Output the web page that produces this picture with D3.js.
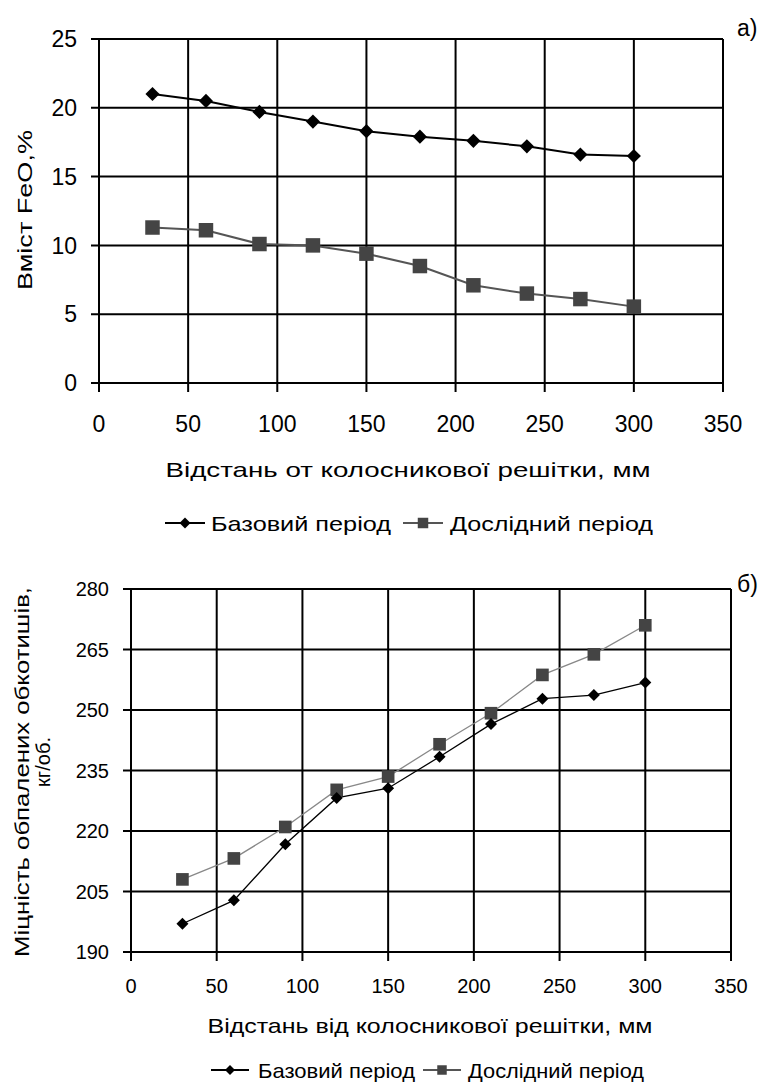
<!DOCTYPE html>
<html>
<head>
<meta charset="utf-8">
<script src="https://cdn.jsdelivr.net/npm/d3@7"></script>
<style>
  body { margin: 0; background: #fff; }
  svg text { font-family: "Liberation Sans", Arial, sans-serif; fill: #000; }
</style>
</head>
<body>
<svg id="chart" width="764" height="1088"></svg>
<script>
// distance from grate, mm
const distances = [30, 60, 90, 120, 150, 180, 210, 240, 270, 300];
const xTicks = [0, 50, 100, 150, 200, 250, 300, 350];

// a) FeO content, %
const feoBase = [21.0, 20.5, 19.7, 19.0, 18.3, 17.9, 17.6, 17.2, 16.6, 16.5];
const feoTest = [11.3, 11.1, 10.1, 10.0, 9.4, 8.5, 7.1, 6.5, 6.1, 5.55];
const feoTicks = [0, 5, 10, 15, 20, 25];

// б) strength of fired pellets, kg/pellet
const strBase = [197, 202.8, 216.7, 228.2, 230.6, 238.4, 246.5, 252.8, 253.7, 256.8];
const strTest = [208, 213.2, 221, 230.2, 233.5, 241.5, 249.2, 258.7, 263.8, 271];
const strTicks = [190, 205, 220, 235, 250, 265, 280];

const seriesNames = ["Базовий період", "Дослідний період"];

const svg = d3.select("#chart");

function drawPanel(cfg) {
  const x = d3.scaleLinear().domain([0, 350]).range([cfg.left, cfg.right]);
  const y = d3.scaleLinear().domain(cfg.yDomain).range([cfg.bottom, cfg.top]);
  const g = svg.append("g");

  // grid
  g.selectAll(".hgrid").data(cfg.yTicks).enter().append("line")
    .attr("x1", cfg.left - 8).attr("x2", cfg.right)
    .attr("y1", d => y(d)).attr("y2", d => y(d))
    .attr("stroke", "#000").attr("stroke-width", 2);
  g.selectAll(".vgrid").data(xTicks).enter().append("line")
    .attr("x1", d => x(d)).attr("x2", d => x(d))
    .attr("y1", cfg.top).attr("y2", cfg.bottom + 9)
    .attr("stroke", "#000").attr("stroke-width", 2);

  // tick labels
  g.selectAll(".ylab").data(cfg.yTicks).enter().append("text")
    .attr("x", cfg.left - 22).attr("y", d => y(d))
    .attr("dy", "0.36em").attr("text-anchor", "end")
    .style("font-size", cfg.tickFont + "px")
    .text(d => d);
  g.selectAll(".xlab").data(xTicks).enter().append("text")
    .attr("x", d => x(d)).attr("y", cfg.xLabelY)
    .attr("text-anchor", "middle")
    .style("font-size", cfg.tickFont + "px")
    .text(d => d);

  // series
  const line = d3.line().x((d, i) => x(distances[i])).y(d => y(d));
  g.append("path").datum(cfg.test).attr("d", line)
    .attr("fill", "none").attr("stroke", cfg.testLine).attr("stroke-width", cfg.testWidth);
  g.append("path").datum(cfg.base).attr("d", line)
    .attr("fill", "none").attr("stroke", "#000").attr("stroke-width", cfg.baseWidth);

  const sq = d3.symbol(d3.symbolSquare, cfg.squareSize);
  const dia = d3.symbol(d3.symbolSquare, cfg.diamondSize);
  g.selectAll(".sq").data(cfg.test).enter().append("path")
    .attr("d", sq)
    .attr("transform", (d, i) => `translate(${x(distances[i])},${y(d)})`)
    .attr("fill", "#444");
  g.selectAll(".dia").data(cfg.base).enter().append("path")
    .attr("d", dia)
    .attr("transform", (d, i) => `translate(${x(distances[i])},${y(d)}) rotate(45)`)
    .attr("fill", "#000");

  // panel letter
  g.append("text").attr("x", 737).attr("y", cfg.letterY)
    .style("font-size", "23px").text(cfg.letter);

  // x title
  g.append("text").attr("x", cfg.xTitle.x).attr("y", cfg.xTitle.y)
    .attr("text-anchor", "middle")
    .attr("textLength", cfg.xTitle.len).attr("lengthAdjust", "spacingAndGlyphs")
    .style("font-size", "21px").text(cfg.xTitle.text);

  // y title lines
  cfg.yTitle.forEach(t => {
    g.append("text")
      .attr("transform", `translate(${t.x},${t.y}) rotate(-90)`)
      .attr("text-anchor", "middle")
      .attr("textLength", t.len).attr("lengthAdjust", "spacingAndGlyphs")
      .style("font-size", t.size + "px").text(t.text);
  });

  // legend
  const lg = cfg.legend;
  [0, 1].forEach(k => {
    const sx = lg.items[k].sym;
    const cy = lg.y;
    g.append("line").attr("x1", sx).attr("x2", sx + lg.symW)
      .attr("y1", cy).attr("y2", cy)
      .attr("stroke", k === 0 ? "#000" : "#555").attr("stroke-width", 2);
    g.append("path")
      .attr("d", k === 0 ? d3.symbol(d3.symbolSquare, lg.diaSize) : d3.symbol(d3.symbolSquare, lg.sqSize))
      .attr("transform", `translate(${sx + lg.symW / 2},${cy})` + (k === 0 ? " rotate(45)" : ""))
      .attr("fill", k === 0 ? "#000" : "#444");
    g.append("text").attr("x", lg.items[k].text).attr("y", cy).attr("dy", "0.36em")
      .attr("textLength", lg.items[k].len).attr("lengthAdjust", "spacingAndGlyphs")
      .style("font-size", "21px").text(seriesNames[k]);
  });
}

drawPanel({
  left: 99, right: 723, top: 39, bottom: 383,
  yDomain: [0, 25], yTicks: feoTicks,
  base: feoBase, test: feoTest,
  testLine: "#555", testWidth: 2, baseWidth: 2,
  squareSize: 210, diamondSize: 100,
  tickFont: 23, xLabelY: 432,
  letter: "а)", letterY: 36,
  xTitle: { text: "Відстань от колосникової решітки, мм", x: 408, y: 477, len: 485 },
  yTitle: [{ text: "Вміст FeO,%", x: 32, y: 210, len: 160, size: 21 }],
  legend: { y: 523, symW: 40, diaSize: 60, sqSize: 110,
    items: [{ sym: 165, text: 211, len: 180 }, { sym: 403, text: 450, len: 203 }] }
});

drawPanel({
  left: 131, right: 731, top: 589, bottom: 952,
  yDomain: [190, 280], yTicks: strTicks,
  base: strBase, test: strTest,
  testLine: "#888", testWidth: 1.3, baseWidth: 1.3,
  squareSize: 160, diamondSize: 72,
  tickFont: 20, xLabelY: 993,
  letter: "б)", letterY: 592,
  xTitle: { text: "Відстань від колосникової решітки, мм", x: 430, y: 1033, len: 445 },
  yTitle: [
    { text: "Міцність обпалених обкотишів,", x: 29, y: 772, len: 370, size: 20 },
    { text: "кг/об.", x: 50, y: 762, len: 50, size: 20 }
  ],
  legend: { y: 1070, symW: 38, diaSize: 50, sqSize: 90,
    items: [{ sym: 211, text: 258, len: 157 }, { sym: 423, text: 468, len: 176 }] }
});
</script>
</body>
</html>
